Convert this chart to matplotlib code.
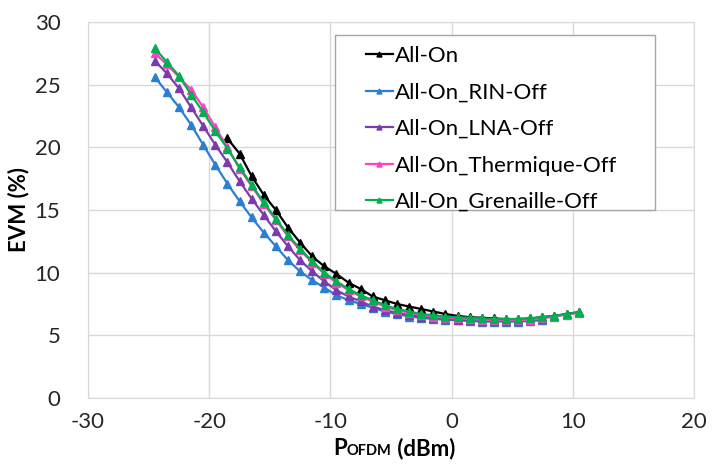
import matplotlib
matplotlib.use("Agg")
import matplotlib.pyplot as plt
from matplotlib.patches import Rectangle
from matplotlib.offsetbox import TextArea, HPacker, AnchoredOffsetbox

plt.rcParams['font.family'] = ['Lato', 'DejaVu Sans']
plt.rcParams['axes.unicode_minus'] = False

# power axis (dBm), 1 dB steps
p_full = [-24.5, -23.5, -22.5, -21.5, -20.5, -19.5, -18.5, -17.5, -16.5, -15.5,
          -14.5, -13.5, -12.5, -11.5, -10.5, -9.5, -8.5, -7.5, -6.5, -5.5,
          -4.5, -3.5, -2.5, -1.5, -0.5, 0.5, 1.5, 2.5, 3.5, 4.5,
          5.5, 6.5, 7.5, 8.5, 9.5, 10.5]
p_allon = p_full[6:]
p_short = p_full[:33]

evm_allon = [20.7, 19.5, 17.7, 16.2, 15.0, 13.6, 12.4, 11.3, 10.5, 9.9,
             9.2, 8.7, 8.1, 7.8, 7.5, 7.3, 7.1, 6.9, 6.7, 6.55,
             6.45, 6.4, 6.35, 6.3, 6.3, 6.35, 6.45, 6.55, 6.7, 6.85]
evm_rin = [25.6, 24.4, 23.2, 21.8, 20.2, 18.6, 17.1, 15.7, 14.4, 13.2,
           12.1, 11.0, 10.1, 9.4, 8.8, 8.2, 7.8, 7.5, 7.2, 6.9,
           6.7, 6.5, 6.4, 6.3, 6.25, 6.2, 6.15, 6.1, 6.1, 6.1,
           6.1, 6.15, 6.2]
evm_lna = [26.9, 25.9, 24.7, 23.2, 21.7, 20.2, 18.8, 17.3, 15.9, 14.6,
           13.3, 12.1, 11.0, 10.1, 9.3, 8.6, 8.1, 7.7, 7.3, 7.0,
           6.8, 6.6, 6.5, 6.4, 6.3, 6.25, 6.2, 6.15, 6.15, 6.15,
           6.15, 6.2, 6.3]
evm_therm = [27.5, 26.6, 25.6, 24.6, 23.2, 21.6, 20.0, 18.3, 16.9, 15.5,
             14.2, 12.9, 11.8, 10.8, 9.9, 9.2, 8.6, 8.1, 7.7, 7.3,
             7.0, 6.8, 6.6, 6.5, 6.4, 6.35, 6.3, 6.25, 6.2, 6.2,
             6.2, 6.25, 6.35, 6.5, 6.65, 6.8]
evm_gren = [27.9, 26.8, 25.7, 24.2, 22.8, 21.3, 19.9, 18.4, 17.0, 15.6,
            14.3, 13.0, 11.9, 10.9, 10.0, 9.3, 8.7, 8.2, 7.8, 7.4,
            7.1, 6.9, 6.7, 6.6, 6.5, 6.45, 6.4, 6.35, 6.3, 6.3,
            6.3, 6.35, 6.45, 6.55, 6.7, 6.85]

labels = ["All-On", "All-On_RIN-Off", "All-On_LNA-Off",
          "All-On_Thermique-Off", "All-On_Grenaille-Off"]
colors = ["#000000", "#2B7FD3", "#7B3AAE", "#FF40C8", "#00B050"]

fig = plt.figure(figsize=(7.16, 4.65), dpi=100)
ax = fig.add_axes([0.123, 0.144, 0.846, 0.809])

series = [(p_allon, evm_allon), (p_short, evm_rin), (p_short, evm_lna),
          (p_full, evm_therm), (p_full, evm_gren)]
for (x, y), lab, c in zip(series, labels, colors):
    ax.plot(x, y, color=c, lw=1.6, marker="^", ms=6, label=lab)

ax.set_xlim(-30, 20)
ax.set_ylim(0, 30)
ax.set_xticks([-30, -20, -10, 0, 10, 20])
ax.set_yticks([0, 5, 10, 15, 20, 25, 30])
ax.grid(True, color="#D9D9D9", lw=1)
ax.set_axisbelow(True)
for s in ax.spines.values():
    s.set_color("#D9D9D9")
ax.tick_params(length=0, labelsize=16, colors="#262626")
ax.tick_params(axis="y", pad=20)
ax.tick_params(axis="x", pad=10)

ax.set_ylabel("EVM (%)", fontsize=16, fontweight="bold", labelpad=4)

# x label with small-caps subscript
parts = [TextArea("P", textprops=dict(fontsize=16, fontweight="bold")),
         TextArea("OFDM", textprops=dict(fontsize=10.5, fontweight="bold")),
         TextArea(" (dBm)", textprops=dict(fontsize=16, fontweight="bold"))]
box = HPacker(children=parts, align="baseline", pad=0, sep=0)
anch = AnchoredOffsetbox(loc="upper center", child=box, frameon=False,
                         bbox_to_anchor=(0.505, -0.105), bbox_transform=ax.transAxes,
                         borderpad=0, pad=0)
ax.add_artist(anch)

# legend frame (wider than its entries, as in the original)
ax.add_patch(Rectangle((0.408, 0.5), 0.528, 0.465, transform=ax.transAxes,
                       fill=True, facecolor="white", edgecolor="#A6A6A6",
                       lw=1.0, zorder=4))
leg = ax.legend(loc="upper left", bbox_to_anchor=(0.455, 0.941), fontsize=16,
                handlelength=1.2, handletextpad=0.1, borderpad=0.1,
                labelspacing=0.74, frameon=False,
                markerscale=0.6, borderaxespad=0)
leg.set_zorder(5)

fig.savefig("out.png", dpi=100)
